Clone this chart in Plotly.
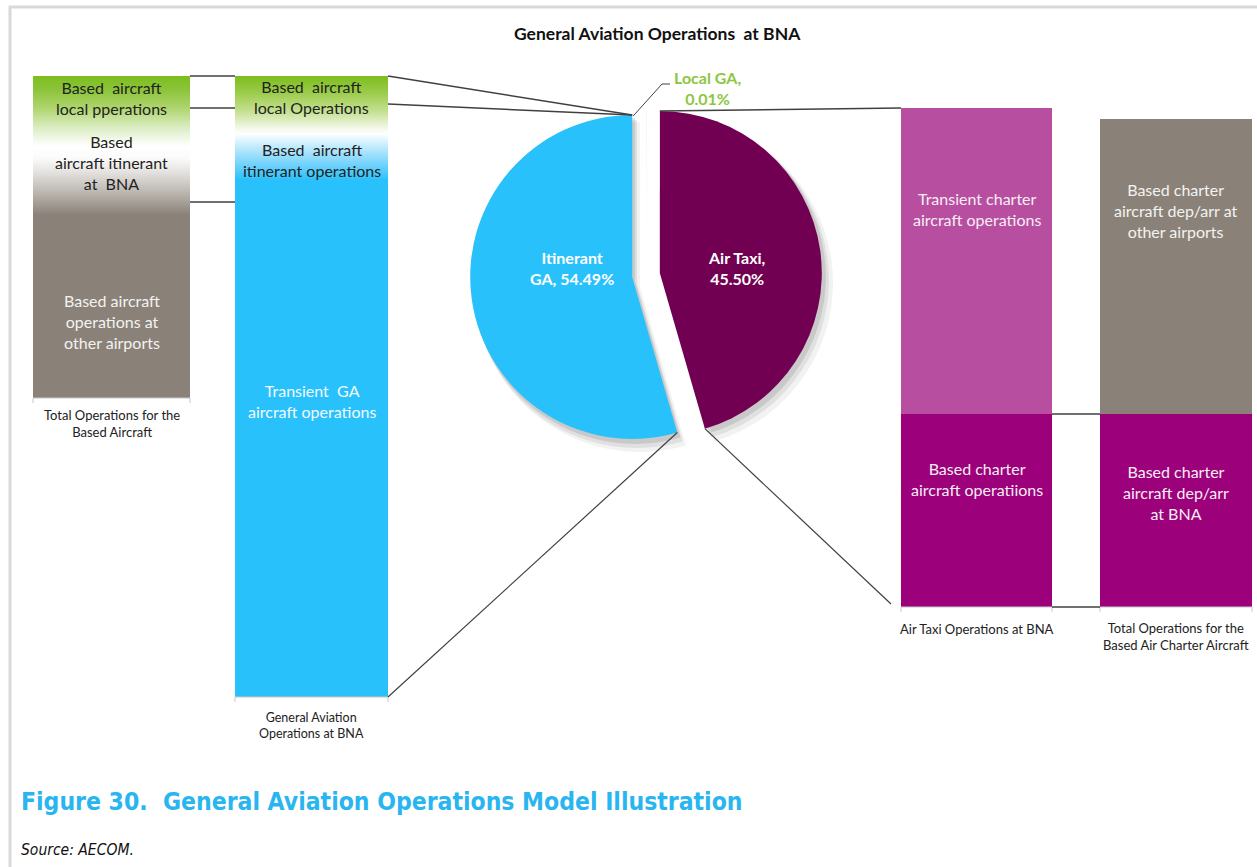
import math
import plotly.graph_objects as go

W, H = 1257, 867

# ---- data (relative operation units, bottom segment first) ----
based_ac_labels = ["Based aircraft operations at other airports",
                   "Based aircraft itinerant at BNA",
                   "Based aircraft local operations"]
based_ac_values = [196, 94, 32]

ga_bna_labels = ["Transient GA aircraft operations",
                 "Based aircraft itinerant operations",
                 "Based aircraft local operations"]
ga_bna_values = [495, 94, 32]

air_taxi_labels = ["Based charter aircraft operations",
                   "Transient charter aircraft operations"]
air_taxi_values = [193, 306]

charter_labels = ["Based charter aircraft dep/arr at BNA",
                  "Based charter aircraft dep/arr at other airports"]
charter_values = [193, 295]

# share of GA operations at BNA (%)
pie_labels = ["Local GA", "Itinerant GA", "Air Taxi"]
pie_values = [0.01, 54.49, 45.50]

column_titles = ["Total Operations for the<br>Based Aircraft",
                 "General Aviation<br>Operations at BNA",
                 "Air Taxi Operations at BNA",
                 "Total Operations for the<br>Based Air Charter Aircraft"]

# ---- styling / layout ----
FONT = "Lato, Carlito, 'Open Sans', sans-serif"
GREEN = "#7dbd1e"
BLUE = "#29c1fb"
GREY = "#8a8279"
PINK = "#b84e9f"
MAGENTA = "#9c007b"
PLUM = "#720052"
LINE = "#404040"


def Y(py):
    """pixel row -> y axis value"""
    return H - py


columns = [
    dict(labels=based_ac_labels, values=based_ac_values, x=111.5, w=157, floor=398,
         colors=[GREY, "#f6f6f6", GREEN]),
    dict(labels=ga_bna_labels, values=ga_bna_values, x=311.5, w=153, floor=697,
         colors=[BLUE, BLUE, GREEN]),
    dict(labels=air_taxi_labels, values=air_taxi_values, x=976.5, w=151, floor=607,
         colors=[MAGENTA, PINK]),
    dict(labels=charter_labels, values=charter_values, x=1176, w=152, floor=607,
         colors=[MAGENTA, GREY]),
]

fig = go.Figure()
shapes = []
annotations = []

for c in columns:
    base0 = Y(c["floor"])
    bases = []
    acc = base0
    for v in c["values"]:
        bases.append(acc)
        acc += v
    c["bases"] = bases
    c["top"] = acc
    c["x0"] = c["x"] - c["w"] / 2
    c["x1"] = c["x"] + c["w"] / 2
    fig.add_trace(go.Bar(
        x=[c["x"]] * len(c["values"]), y=c["values"], base=bases,
        width=c["w"], marker=dict(color=c["colors"], line=dict(width=0)),
        hovertext=c["labels"], hoverinfo="text+y",
    ))
    # thin category baseline with end ticks
    shapes.append(dict(type="line", xref="x", yref="y", x0=c["x0"], x1=c["x1"],
                       y0=base0, y1=base0, line=dict(color="#c8c8c8", width=1)))
    for xe in (c["x0"], c["x1"]):
        shapes.append(dict(type="line", xref="x", yref="y", x0=xe, x1=xe,
                           y0=base0, y1=base0 - 5, line=dict(color="#c8c8c8", width=1)))

A, B, C, D = columns


def gradient_overlay(col, stops):
    """vertical colour blend over a whole column; stops are (fraction from bottom, colour)"""
    b, t = col["bases"][0], col["top"]
    fig.add_trace(go.Scatter(
        x=[col["x0"], col["x1"], col["x1"], col["x0"], col["x0"]],
        y=[b, b, t, t, b], mode="lines", line=dict(width=0),
        fill="toself", fillgradient=dict(type="vertical", colorscale=stops),
        hoverinfo="skip",
    ))


def frac(col, py):
    return (Y(py) - col["bases"][0]) / (col["top"] - col["bases"][0])


gradient_overlay(A, [
    [0.0, GREY], [frac(A, 215), GREY], [frac(A, 192), "#bdb7b1"],
    [frac(A, 170), "#e8e6e4"], [frac(A, 158), "#fbfbfb"], [frac(A, 146), "#ffffff"],
    [frac(A, 128), "#dcedc4"], [frac(A, 108), "#afd56e"], [frac(A, 90), "#8cc43a"],
    [1.0, GREEN],
])
gradient_overlay(B, [
    [0.0, BLUE], [frac(B, 180), BLUE], [frac(B, 160), "#86d8fc"],
    [frac(B, 142), "#d6f2fe"], [frac(B, 134), "#ffffff"], [frac(B, 128), "#f2f8e8"],
    [frac(B, 112), "#c6e194"], [frac(B, 92), "#9acb48"], [1.0, GREEN],
])

# ---- pie ----
# counterclockwise: the first (tiny) slice sits just right of 12 o'clock,
# the following slices sweep leftwards from 12 o'clock
pcx, pcy, pr, pull = 646, 275, 162, 0.086
half = pr * (1 + pull)


def pie_domain(dx=0, dy=0, grow=0):
    h = half + grow * (1 + pull)
    return dict(x=[(pcx + dx - h) / W, (pcx + dx + h) / W],
                y=[1 - (pcy + dy + h) / H, 1 - (pcy + dy - h) / H])


pulls = [0, pull, pull]
# soft drop shadow
for dx, dy, grow, op in [(3, 4, 1, 0.10), (5, 7, 2, 0.07), (8, 10, 3, 0.05)]:
    fig.add_trace(go.Pie(
        labels=pie_labels, values=pie_values, sort=False, direction="counterclockwise",
        pull=pulls, domain=pie_domain(dx, dy, grow), textinfo="none", hoverinfo="skip",
        marker=dict(colors=[f"rgba(0,0,0,{op})"] * 3, line=dict(width=0)),
        showlegend=False,
    ))
fig.add_trace(go.Pie(
    labels=pie_labels, values=pie_values, sort=False, direction="counterclockwise",
    pull=pulls, domain=pie_domain(), textinfo="none",
    hovertemplate="%{label}: %{value:.2f}%<extra></extra>",
    marker=dict(colors=["#8dc63f", BLUE, PLUM], line=dict(width=0)),
    showlegend=False,
))

total = sum(pie_values)
ang_it = 2 * math.pi * pie_values[1] / total   # itinerant sweep, leftwards from 12 o'clock
ang_tx = 2 * math.pi * pie_values[2] / total


def slice_apex(mid_angle):
    return (pcx - math.sin(mid_angle) * pull * pr, pcy - math.cos(mid_angle) * pull * pr)


blue_apex = slice_apex(ang_it / 2)
plum_apex = slice_apex(ang_it + ang_tx / 2)


def rim(apex, ang):
    return (apex[0] - math.sin(ang) * pr, apex[1] - math.cos(ang) * pr)


blue_top = rim(blue_apex, 0)
blue_low = rim(blue_apex, ang_it)
plum_low = rim(plum_apex, ang_it)
plum_top = rim(plum_apex, ang_it + ang_tx)


def seg(x0, py0, x1, py1, width=1.5):
    shapes.append(dict(type="line", xref="x", yref="y", x0=x0, y0=Y(py0), x1=x1, y1=Y(py1),
                       line=dict(color=LINE, width=width)))


def row(col, k):
    """pixel row of the k-th segment boundary counted from the column floor"""
    return H - (col["bases"][k] if k < len(col["bases"]) else col["top"])


# connectors: based aircraft -> GA at BNA
for k in (3, 2, 1):
    seg(A["x1"], row(A, k), B["x0"], row(A, k))
# GA at BNA -> pie
seg(B["x1"], row(B, 3), blue_top[0], blue_top[1])
seg(B["x1"], row(B, 2) - 4, blue_top[0], blue_top[1])
seg(B["x1"], row(B, 0), blue_low[0], blue_low[1], 1.2)
# pie -> air taxi
seg(plum_top[0], plum_top[1], C["x0"], row(C, 2))
seg(plum_low[0], plum_low[1], C["x0"] - 10, row(C, 0) - 3, 1.2)
# air taxi -> based charter
seg(C["x1"], row(C, 1), D["x0"], row(D, 1))
seg(C["x1"], row(C, 0), D["x0"], row(D, 0))
# local GA leader
shapes.append(dict(type="path", xref="x", yref="y",
                   path=f"M {blue_top[0]+1},{Y(blue_top[1]+1)} L 662,{Y(84)} L 670,{Y(84)}",
                   line=dict(color=LINE, width=1)))

# figure frame
shapes.append(dict(type="line", xref="paper", yref="paper", x0=9 / W, x1=1, y0=1 - 7 / H, y1=1 - 7 / H,
                   line=dict(color="#d6dadd", width=3)))
shapes.append(dict(type="line", xref="paper", yref="paper", x0=10 / W, x1=10 / W, y0=0, y1=1 - 6 / H,
                   line=dict(color="#d6dadd", width=3)))


def note(x, py, text, size=16, color="#222222", bold=False, font=FONT, xanchor="center", italic=False):
    if bold:
        text = f"<b>{text}</b>"
    if italic:
        text = f"<i>{text}</i>"
    annotations.append(dict(x=x, y=Y(py), xref="x", yref="y", text=text, showarrow=False,
                            xanchor=xanchor, yanchor="middle", align="center" if xanchor == "center" else "left",
                            font=dict(family=font, size=size, color=color)))


# segment labels
note(A["x"], 98, "Based  aircraft<br>local pperations")
note(A["x"], 162, "Based<br>aircraft itinerant<br>at  BNA")
note(A["x"], 321, "Based aircraft<br>operations at<br>other airports", color="#f4f2f0")
note(B["x"], 97, "Based  aircraft<br>local Operations")
note(B["x"], 160, "Based  aircraft<br>itinerant operations")
note(B["x"], 401, "Transient  GA<br>aircraft operations", color="#f2fbff")
note(C["x"], 209, "Transient charter<br>aircraft operations", color="#f7eef5")
note(C["x"], 479, "Based charter<br>aircraft operatiions", color="#f7eef5")
note(D["x"], 210, "Based charter<br>aircraft dep/arr at<br>other airports", color="#f4f2f0")
note(D["x"], 492, "Based charter<br>aircraft dep/arr<br>at BNA", color="#f7eef5")

# column titles
note(A["x"], 423, column_titles[0], size=13)
note(B["x"], 725, column_titles[1], size=12.5)
note(C["x"], 629, column_titles[2], size=13)
note(D["x"], 636, column_titles[3], size=13)

# pie labels
note(572, 268, f"Itinerant<br>GA, {pie_values[1]:.2f}%", size=16, color="white", bold=True)
note(737, 268, f"Air Taxi,<br>{pie_values[2]:.2f}%", size=16, color="white", bold=True)
note(707, 88, f"Local GA,<br>{pie_values[0]:.2f}%", size=16, color="#8dc63f", bold=True)

# chart title
note(657, 33, "General Aviation Operations  at BNA", size=17.5, color="#111111", bold=True)

# figure caption and source
CAP = "'Liberation Sans Narrow', 'Arial Narrow', 'DejaVu Sans Condensed', 'Liberation Sans', sans-serif"
note(19, 801, "Figure 30.  General Aviation Operations Model Illustration", size=24.5,
     color="#29b5f0", bold=True, font=CAP, xanchor="left")
note(19, 850, "Source: AECOM.", size=15.5, color="#111111", italic=True, font=CAP, xanchor="left")

fig.update_layout(
    width=W, height=H, margin=dict(l=0, r=0, t=0, b=0),
    paper_bgcolor="white", plot_bgcolor="white",
    barmode="overlay", showlegend=False,
    xaxis=dict(range=[0, W], visible=False, fixedrange=True),
    yaxis=dict(range=[0, H], visible=False, fixedrange=True),
    shapes=shapes, annotations=annotations,
)

fig.write_html("out.html")
